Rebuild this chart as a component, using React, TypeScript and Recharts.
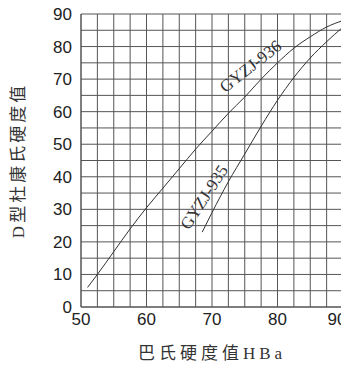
import { LineChart, Line, XAxis, YAxis, CartesianGrid, ReferenceDot } from 'recharts';

// readings
const hba936 = [51, 52.5, 55, 57.5, 60, 62.5, 65, 67.5, 70, 72.5, 75, 77.5, 80, 82.5, 85, 87.5, 90];
const durometer936 = [6, 10, 17, 24, 30.5, 36.5, 42.5, 48.5, 54, 59.5, 64.5, 70, 75, 79.5, 83, 86, 88];

const hba935 = [68.5, 70, 72.5, 75, 77.5, 80, 82.5, 85, 87.5, 90];
const durometer935 = [23, 29, 38.5, 47, 55.5, 63.5, 70.5, 76.5, 81.5, 86];

const xTicks = [50, 52.5, 55, 57.5, 60, 62.5, 65, 67.5, 70, 72.5, 75, 77.5, 80, 82.5, 85, 87.5, 90];
const yTicks = [0, 5, 10, 15, 20, 25, 30, 35, 40, 45, 50, 55, 60, 65, 70, 75, 80, 85, 90];

const curveLabels = [
  { name: 'GYZJ-936', x: 75.9, y: 73.9, angle: -38 },
  { name: 'GYZJ-935', x: 68.8, y: 33.7, angle: -57 },
];

const series936 = hba936.map((x, i) => ({ x, y: durometer936[i] }));
const series935 = hba935.map((x, i) => ({ x, y: durometer935[i] }));

const tickFont = '"Liberation Sans", Arial, sans-serif';
const titleFont = '"Liberation Serif", "Noto Sans CJK SC", serif';

const onlyTens = (v: number) => (v % 10 === 0 ? String(v) : '');

const XTick = ({ x, y, payload }: any) => {
  const v = payload.value;
  if (v % 10 !== 0) return null;
  // last label sits a little inside the frame, as in the print
  const shift = v === 90 ? -6 : 0;
  return (
    <text x={x + shift} y={y} dy="0.71em" textAnchor="middle" fontSize={17} fill="#222" fontFamily={tickFont}>
      {v}
    </text>
  );
};

const CurveName = ({ cx, cy, name, angle }: any) => (
  <text
    x={cx}
    y={cy}
    textAnchor="middle"
    dominantBaseline="central"
    transform={`rotate(${angle} ${cx} ${cy})`}
    fontSize={17}
    fontFamily={'"Liberation Serif", serif'}
    fill="#333"
  >
    {name}
  </text>
);

const XTitle = ({ viewBox }: any) => (
  <text
    x={viewBox.x + viewBox.width / 2}
    y={viewBox.y + 52}
    textAnchor="middle"
    fontSize={17}
    letterSpacing={4}
    fontFamily={titleFont}
    fill="#333"
  >
    巴氏硬度值HBa
  </text>
);

const YTitle = ({ viewBox }: any) => {
  const cx = 18;
  const cy = viewBox.y + viewBox.height / 2;
  return (
    <text
      x={cx}
      y={cy}
      textAnchor="middle"
      dominantBaseline="central"
      transform={`rotate(-90 ${cx} ${cy})`}
      fontSize={17}
      letterSpacing={3}
      fontFamily={titleFont}
      fill="#333"
    >
      D型杜康氏硬度值
    </text>
  );
};

export default function App() {
  return (
    <div style={{ position: 'relative', left: -8, top: -8, width: 349, height: 365, background: '#fff' }}>
      <LineChart
        width={349}
        height={365}
        margin={{ top: 14, right: 6, left: 21, bottom: 28 }}
      >
        <CartesianGrid stroke="#555" strokeWidth={1} />
        <XAxis
          type="number"
          dataKey="x"
          domain={[50, 90]}
          ticks={xTicks}
          interval={0}
          tickLine={false}
          tickSize={0}
          tickMargin={6}
          axisLine={{ stroke: '#555' }}
          tick={<XTick />}
          height={30}
          label={{ content: <XTitle /> }}
        />
        <YAxis
          type="number"
          domain={[0, 90]}
          ticks={yTicks}
          interval={0}
          tickFormatter={onlyTens}
          tickLine={false}
          tickSize={0}
          tickMargin={9}
          axisLine={{ stroke: '#555' }}
          tick={{ fontSize: 17, fill: '#222', fontFamily: tickFont }}
          width={60}
          label={{ content: <YTitle /> }}
        />
        <Line
          data={series936}
          dataKey="y"
          type="monotone"
          stroke="#333"
          strokeWidth={1}
          dot={false}
          isAnimationActive={false}
        />
        <Line
          data={series935}
          dataKey="y"
          type="monotone"
          stroke="#333"
          strokeWidth={1}
          dot={false}
          isAnimationActive={false}
        />
        {curveLabels.map(l => (
          <ReferenceDot
            key={l.name}
            x={l.x}
            y={l.y}
            r={0}
            shape={(p: any) => <CurveName {...p} name={l.name} angle={l.angle} />}
          />
        ))}
      </LineChart>
    </div>
  );
}
